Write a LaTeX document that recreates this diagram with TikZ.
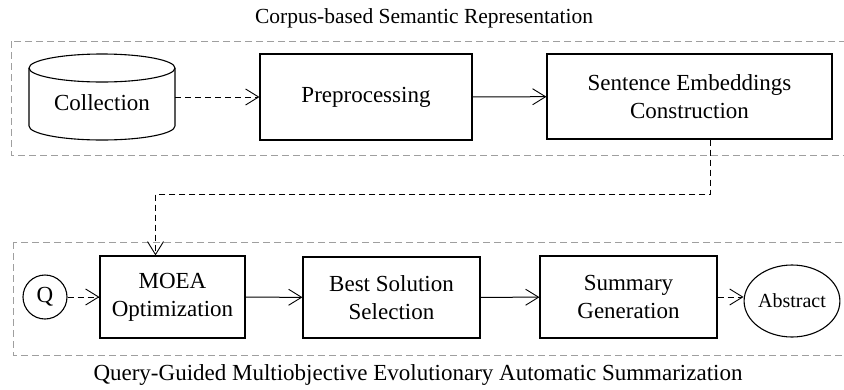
\documentclass[tikz,border=0pt]{standalone}
\usepackage{fontspec}
\setmainfont{Liberation Serif}
\usetikzlibrary{arrows.meta,positioning,shapes.geometric}

\tikzset{
  caja/.style={draw, line width=1.1pt, align=center, inner sep=0pt},
  marco/.style={draw=gray!75, dash pattern=on 7pt off 4pt, line width=1pt},
  flecha/.style={-{Straight Barb[length=13pt,width=16pt,line width=0.9pt]}, line width=1pt},
  flechapunto/.style={flecha, dash pattern=on 6pt off 4pt}
}

\begin{document}
\begin{tikzpicture}[x=1pt,y=1pt,font=\fontsize{23}{28}\selectfont]
    \useasboundingbox (0,0) rectangle (844,-389);
    \clip (0,0) rectangle (844,-389);

    % Titulos
    \node[font=\fontsize{21.5}{26}\selectfont] (tsup) at (424,-18) {Corpus-based Semantic Representation};
    \node (tinf) at (418,-375) {Query-Guided Multiobjective Evolutionary Automatic Summarization};

    % Marcos
    \draw[marco] (11,-41) rectangle (870,-155);
    \draw[marco] (13,-242) rectangle (870,-355);

    % Coleccion (cilindro)
    \draw[line width=1.1pt] (29,-68) -- (29,-126)
        arc[start angle=180, end angle=360, x radius=73pt, y radius=14pt] -- (175,-68);
    \draw[line width=1.1pt] (102,-68) ellipse [x radius=73pt, y radius=14pt];
    \node[minimum width=146pt, inner sep=0pt] (coll) at (102,-103) {Collection};

    % Cajas
    \node[caja, minimum width=212pt, minimum height=86pt] (prep) at (366,-97) {Preprocessing};
    \node[caja, minimum width=285pt, minimum height=85pt] (sent) at (689.5,-96.5) {Sentence Embeddings\\Construction};
    \node[caja, minimum width=145pt, minimum height=82pt] (moea) at (172.5,-297) {MOEA\\Optimization};
    \node[caja, minimum width=177pt, minimum height=81pt] (best) at (391.5,-297.5) {Best Solution\\Selection};
    \node[caja, minimum width=177pt, minimum height=82pt] (summ) at (628.5,-297) {Summary\\Generation};
    \node[circle, draw, line width=1.1pt, minimum size=44pt, inner sep=0pt] (q) at (45,-297) {Q};
    \node[ellipse, draw, line width=1.1pt, minimum width=85pt, minimum height=72pt, inner sep=0pt,
          font=\fontsize{20}{24}\selectfont] (abst) at (792,-301) {Abstract};

    % Flechas
    \draw[flechapunto] (coll.east |- prep.west) -- (prep.west);
    \draw[flecha] (prep) -- (sent);
    \draw[flechapunto] ([xshift=21pt]sent.south) |- ([xshift=-17pt,yshift=61pt]moea.north)
        -- ([xshift=-17pt]moea.north);
    \draw[flechapunto] (q) -- (moea);
    \draw[flecha] (moea) -- (best);
    \draw[flecha] (best) -- (summ);
    \draw[flechapunto] (summ.east) -- (summ.east -| abst.west);
\end{tikzpicture}
\end{document}
